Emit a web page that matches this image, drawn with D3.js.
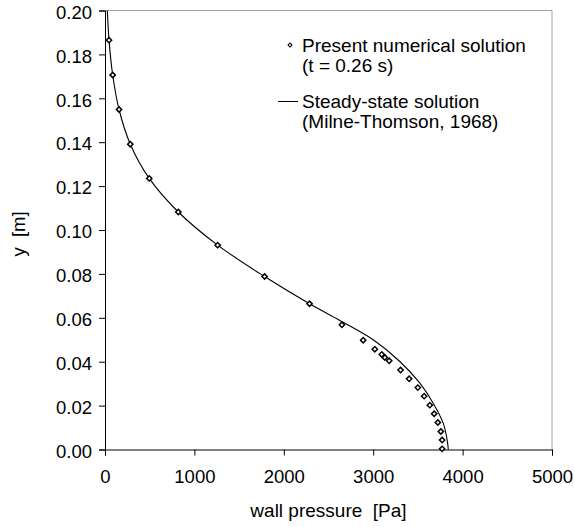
<!DOCTYPE html>
<html>
<head>
<meta charset="utf-8">
<script src="https://cdn.jsdelivr.net/npm/d3@7"></script>
<style>
  body { margin: 0; background: #fff; }
  text { font-family: "Liberation Sans", Arial, sans-serif; fill: #000; white-space: pre; }
</style>
</head>
<body>
<div id="chart"></div>
<script>
// numerical solution (t = 0.26 s): wall pressure [Pa] vs y [m]
var numPressure = [45, 86, 157, 283, 495, 820, 1260, 1785, 2288, 2650, 2888, 3018, 3096, 3130, 3179, 3306, 3402, 3499, 3570, 3633, 3682, 3723, 3757, 3771, 3771];
var numY        = [0.1865, 0.1706, 0.1549, 0.1391, 0.1235, 0.1082, 0.0931, 0.0788, 0.0664, 0.0568, 0.0498, 0.0457, 0.0433, 0.0419, 0.0404, 0.0362, 0.0322, 0.0282, 0.0243, 0.0202, 0.0163, 0.0123, 0.0082, 0.0043, 0.0003];

// steady-state solution (Milne-Thomson, 1968)
var steadyPressure = [26, 45, 86, 157, 283, 495, 820, 1260, 1785, 2288, 2627, 3000, 3298, 3522, 3671, 3783, 3815, 3832, 3840];
var steadyY        = [0.200, 0.1865, 0.1706, 0.1549, 0.1391, 0.1235, 0.1082, 0.0931, 0.0788, 0.0664, 0.0588, 0.0500, 0.0401, 0.0302, 0.0211, 0.0120, 0.0070, 0.0030, 0.0];

var xTicks = [0, 1000, 2000, 3000, 4000, 5000];
var yTicks = [0, 0.02, 0.04, 0.06, 0.08, 0.10, 0.12, 0.14, 0.16, 0.18, 0.20];

var legendLabels = [["Present numerical solution", "(t = 0.26 s)"], ["Steady-state solution", "(Milne-Thomson, 1968)"]];

var width = 574, height = 527;
var margin = {top: 10.5, right: 22, bottom: 77.5, left: 105};

var svg = d3.select("#chart").append("svg")
    .attr("width", width)
    .attr("height", height);

var x = d3.scaleLinear().domain([0, 5000]).range([margin.left, width - margin.right]);
var y = d3.scaleLinear().domain([0, 0.2]).range([height - margin.bottom, margin.top]);

// gray frame top and right
svg.append("line")
    .attr("x1", x(0)).attr("x2", x(5000))
    .attr("y1", y(0.2)).attr("y2", y(0.2))
    .style("stroke", "#a0a0a0").style("stroke-width", 1);
svg.append("line")
    .attr("x1", x(5000)).attr("x2", x(5000))
    .attr("y1", y(0.2)).attr("y2", y(0))
    .style("stroke", "#a0a0a0").style("stroke-width", 1);

var xAxis = svg.append("g")
    .attr("transform", "translate(0," + y(0) + ")")
    .call(d3.axisBottom(x).tickValues(xTicks).tickFormat(d3.format("d")).tickSizeOuter(0).tickSize(6).tickPadding(14));
var yAxis = svg.append("g")
    .attr("transform", "translate(" + x(0) + ",0)")
    .call(d3.axisLeft(y).tickValues(yTicks).tickFormat(d3.format(".2f")).tickSizeOuter(0).tickSize(6).tickPadding(7));

svg.selectAll(".tick text").style("font-size", "18.5px").style("font-family", "'Liberation Sans', Arial, sans-serif");
yAxis.selectAll(".tick text").attr("dy", "0.42em");
svg.selectAll(".domain").style("stroke", "#000");

// axis titles
svg.append("text")
    .attr("x", (x(0) + x(5000)) / 2)
    .attr("y", 517)
    .attr("text-anchor", "middle")
    .style("font-size", "19px")
    .text("wall pressure  [Pa]");
svg.append("text")
    .attr("transform", "translate(25,234) rotate(-90)")
    .attr("text-anchor", "middle")
    .style("font-size", "18.5px")
    .text("y  [m]");

// steady-state line
var steady = steadyPressure.map(function(p, i){ return [p, steadyY[i]]; });
var line = d3.line()
    .curve(d3.curveCatmullRom.alpha(0.5))
    .x(function(d){ return x(d[0]); })
    .y(function(d){ return y(d[1]); });
svg.append("path")
    .datum(steady)
    .attr("d", line)
    .style("fill", "none")
    .style("stroke", "#000")
    .style("stroke-width", 1.1);

// numerical points as open diamonds
var diamond = d3.symbol().type(d3.symbolSquare).size(14);
var pts = numPressure.map(function(p, i){ return [p, numY[i]]; });
svg.selectAll(".pt")
    .data(pts)
    .enter().append("path")
    .attr("class", "pt")
    .attr("d", diamond)
    .attr("transform", function(d){ return "translate(" + x(d[0]) + "," + y(d[1]) + ") rotate(45)"; })
    .style("fill", "#fff")
    .style("stroke", "#000")
    .style("stroke-width", 1.5);

// legend
var lg = svg.append("g");
lg.append("path")
    .attr("d", d3.symbol().type(d3.symbolSquare).size(8))
    .attr("transform", "translate(290,45) rotate(45)")
    .style("fill", "#fff")
    .style("stroke", "#000")
    .style("stroke-width", 1);
lg.append("line")
    .attr("x1", 278).attr("x2", 298)
    .attr("y1", 101.5).attr("y2", 101.5)
    .style("stroke", "#000").style("stroke-width", 1);
legendLabels.forEach(function(lbl, i){
    lbl.forEach(function(t, j){
        lg.append("text")
            .attr("x", 302)
            .attr("y", 52 + i * 56 + j * 20)
            .style("font-size", "19px")
            .text(t);
    });
});
</script>
</body>
</html>
